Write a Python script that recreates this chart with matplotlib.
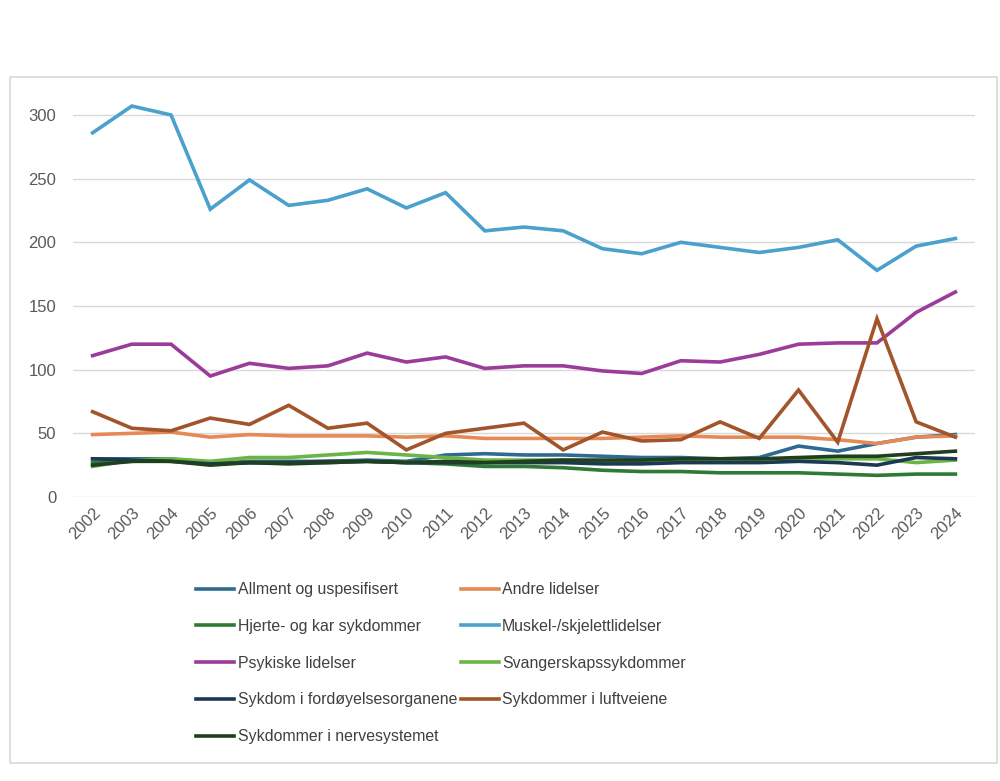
import matplotlib
matplotlib.use("Agg")
import matplotlib.pyplot as plt
from matplotlib.patches import Rectangle

plt.rcParams['font.family'] = ['Liberation Sans', 'DejaVu Sans']

years = [str(y) for y in range(2002, 2025)]

allment = [30, 30, 30, 26, 28, 28, 28, 29, 28, 33, 34, 33, 33, 32, 31, 31, 30, 31, 40, 36, 42, 47, 49]
andre = [49, 50, 51, 47, 49, 48, 48, 48, 47, 48, 46, 46, 46, 46, 47, 48, 47, 47, 47, 45, 42, 47, 48]
hjerte = [27, 28, 29, 26, 27, 27, 27, 28, 27, 26, 24, 24, 23, 21, 20, 20, 19, 19, 19, 18, 17, 18, 18]
muskel = [286, 307, 300, 226, 249, 229, 233, 242, 227, 239, 209, 212, 209, 195, 191, 200, 196, 192, 196, 202, 178, 197, 203]
psykiske = [111, 120, 120, 95, 105, 101, 103, 113, 106, 110, 101, 103, 103, 99, 97, 107, 106, 112, 120, 121, 121, 145, 161]
svangerskap = [24, 29, 30, 28, 31, 31, 33, 35, 33, 31, 29, 29, 29, 28, 28, 29, 29, 29, 30, 30, 30, 27, 29]
fordoyelse = [30, 29, 28, 26, 27, 27, 28, 28, 27, 27, 27, 27, 27, 26, 26, 27, 27, 27, 28, 27, 25, 31, 30]
luftveiene = [67, 54, 52, 62, 57, 72, 54, 58, 37, 50, 54, 58, 37, 51, 44, 45, 59, 46, 84, 43, 140, 59, 47]
nerve = [25, 28, 28, 25, 27, 26, 27, 28, 27, 28, 27, 28, 29, 29, 29, 30, 30, 30, 31, 32, 32, 34, 36]

series = [
    ("Allment og uspesifisert", allment, "#2F6B91"),
    ("Andre lidelser", andre, "#E58A55"),
    ("Hjerte- og kar sykdommer", hjerte, "#2F7A34"),
    ("Muskel-/skjelettlidelser", muskel, "#4AA1CB"),
    ("Psykiske lidelser", psykiske, "#9A3C98"),
    ("Svangerskapssykdommer", svangerskap, "#6BB545"),
    ("Sykdom i fordøyelsesorganene", fordoyelse, "#1D3852"),
    ("Sykdommer i luftveiene", luftveiene, "#A2542A"),
    ("Sykdommer i nervesystemet", nerve, "#1F3F1F"),
]

fig = plt.figure(figsize=(10, 7.81), dpi=100)
fig.patches.append(Rectangle((0.010, 1 - 763/781), 0.987, (763-77)/781,
                             transform=fig.transFigure, fill=False,
                             edgecolor="#d9d9d9", linewidth=1.2))

ax = fig.add_axes([0.073, 1 - 497/781, 0.975 - 0.073, (497 - 89.5)/781])
x = list(range(len(years)))
handles = {}
for name, vals, col in series:
    h, = ax.plot(x, vals, color=col, linewidth=2.6, label=name, solid_joinstyle='miter')
    handles[name] = h

ax.set_xlim(-0.5, len(years) - 0.5)
ax.set_ylim(0, 320)
ax.set_yticks([0, 50, 100, 150, 200, 250, 300])
ax.set_xticks(x)
ax.set_xticklabels(years, rotation=45, ha='right', rotation_mode='anchor')
ax.tick_params(axis='both', length=0, colors="#595959", labelsize=12)
ax.tick_params(axis='x', pad=6)
ax.tick_params(axis='y', pad=12)
ax.grid(axis='y', color="#d9d9d9", linewidth=1)
ax.set_axisbelow(True)
for s in ax.spines.values():
    s.set_visible(False)

order = ["Allment og uspesifisert", "Hjerte- og kar sykdommer", "Psykiske lidelser",
         "Sykdom i fordøyelsesorganene", "Sykdommer i nervesystemet",
         "Andre lidelser", "Muskel-/skjelettlidelser", "Svangerskapssykdommer",
         "Sykdommer i luftveiene"]
leg = fig.legend([handles[n] for n in order], order, ncol=2, frameon=False,
                 loc='upper left', bbox_to_anchor=(0.19, 1 - 576/781),
                 fontsize=11.4, handlelength=2.4, handletextpad=0.2,
                 columnspacing=0.25, labelspacing=1.37, borderaxespad=0)
for t in leg.get_texts():
    t.set_color("#404040")

fig.savefig("out.png", dpi=100)
